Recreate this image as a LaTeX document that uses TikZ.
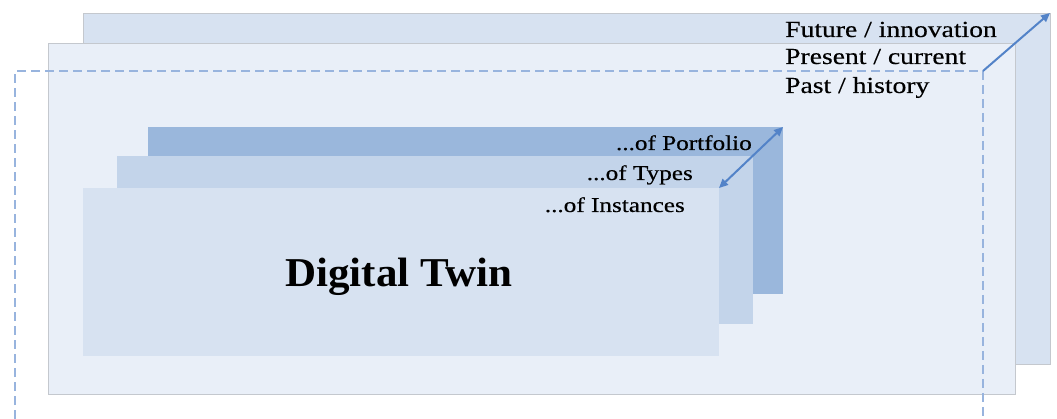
\documentclass[tikz,border=0pt]{standalone}
\usepackage{fontspec}
\setmainfont[FakeStretch=1.2, FakeBold=0.4]{Liberation Serif}
\newfontfamily\titlefont[FakeStretch=1.05]{Liberation Serif}
\usetikzlibrary{arrows.meta}

\definecolor{futurefill}{HTML}{D7E2F1}
\definecolor{presentfill}{HTML}{E9EFF8}
\definecolor{edgegray}{HTML}{C4C8CE}
\definecolor{dashblue}{HTML}{98B4DE}
\definecolor{arrowblue}{HTML}{5383C8}
\definecolor{portfoliofill}{HTML}{9AB7DC}
\definecolor{typesfill}{HTML}{C3D4EA}
\definecolor{instancesfill}{HTML}{D7E2F1}

\tikzset{
  layer/.style={draw=edgegray, line width=0.8pt, inner sep=0pt, outer sep=0pt,
                anchor=north west},
  card/.style={inner sep=0pt, outer sep=0pt, anchor=north west},
  timelabel/.style={inner sep=0pt, anchor=base west,
                    font=\fontsize{23}{27}\selectfont},
  levellabel/.style={inner sep=0pt, anchor=base east,
                     font=\fontsize{21}{25}\selectfont},
  pastframe/.style={draw=dashblue, line width=1.5pt, dash pattern=on 9pt off 5pt},
  timearrow/.style={draw=arrowblue, line width=2pt,
                    -{Triangle[length=9pt,width=8pt]}},
  levelarrow/.style={draw=arrowblue, line width=2pt,
                     {Triangle[length=9pt,width=8pt]}-{Triangle[length=9pt,width=8pt]}},
}

\begin{document}
\begin{tikzpicture}[x=1pt, y=-1pt]
  \useasboundingbox (0,0) rectangle (1057,419);
  \clip (0,0) rectangle (1057,419);

  % time layers
  \node[layer, fill=futurefill, minimum width=967pt, minimum height=351pt]
    (future) at (83,13) {};
  \node[layer, fill=presentfill, minimum width=967pt, minimum height=351pt]
    (present) at (48,43) {};

  % dashed frame for the past
  \coordinate (pastTL) at (15,71);
  \coordinate (pastTR) at (983,71);
  \coordinate (pastBL) at (15,419);
  \coordinate (pastBR) at (983,419);
  \draw[pastframe] (pastBL) -- (pastTL) -- (pastTR) -- (pastBR);

  % time arrow
  \draw[timearrow] (pastTR) -- (future.north east);

  \node[timelabel] (futurelbl)  at (785,37) {Future / innovation};
  \node[timelabel] (presentlbl) at (785,64) {Present / current};
  \node[timelabel] (pastlbl)    at (785,93) {Past / history};

  % abstraction levels
  \node[card, fill=portfoliofill, minimum width=635pt, minimum height=167pt]
    (portfolio) at (148,127) {};
  \node[card, fill=typesfill, minimum width=636pt, minimum height=168pt]
    (types) at (117,156) {};
  \node[card, fill=instancesfill, minimum width=636pt, minimum height=168pt]
    (instances) at (83,188) {};

  \draw[levelarrow] (instances.north east) -- (portfolio.north east);

  \node[levellabel] (portfoliolbl) at (752,150) {...of Portfolio};
  \node[levellabel] (typeslbl)     at (693,180) {...of Types};
  \node[levellabel] (instanceslbl) at (685,212) {...of Instances};

  \node[inner sep=0pt, anchor=base, font=\titlefont\bfseries\fontsize{41}{48}\selectfont]
    (twin) at (399,287) {Digital Twin};
\end{tikzpicture}
\end{document}
